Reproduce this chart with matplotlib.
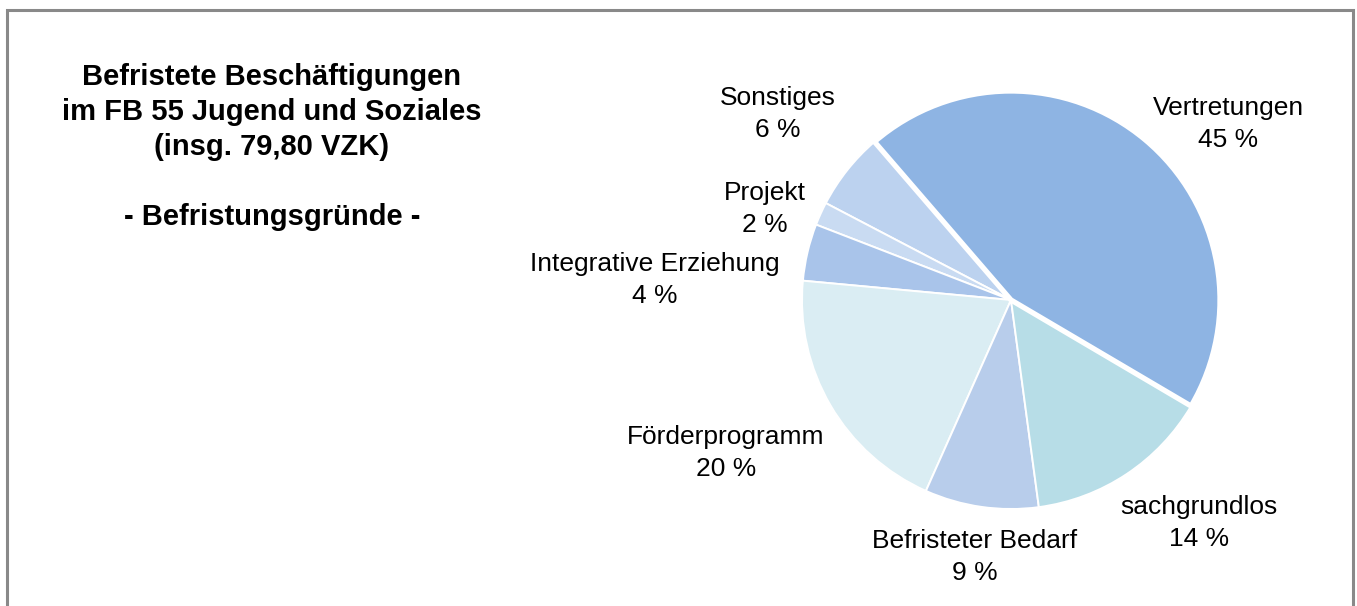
import matplotlib
matplotlib.use("Agg")
import matplotlib.pyplot as plt

plt.rcParams['font.family'] = ['Liberation Sans', 'DejaVu Sans']

categories = ["Vertretungen", "Sonstiges", "Projekt", "Integrative Erziehung",
              "Förderprogramm", "Befristeter Bedarf", "sachgrundlos"]
shares = [44.8, 6.0, 1.8, 4.4, 19.8, 8.8, 14.4]
shown_pct = [45, 6, 2, 4, 20, 9, 14]
colors = ["#8EB4E3", "#BCD2EF", "#C9DBF2", "#A9C4EA", "#DAEDF3", "#B8CDEB", "#B7DDE7"]

# label centre positions in pixels (x, y from top)
label_pos = [(1228, 124), (778, 114), (765, 209), (655, 280),
             (726, 453), (975, 557), (1199, 523)]

W, H = 1357, 606
fig = plt.figure(figsize=(W / 100, H / 100), dpi=100)

# border frame
border = fig.add_axes([0, 0, 1, 1], facecolor='none')
border.set_xlim(0, W); border.set_ylim(H, 0); border.axis('off')
border.plot([7, 7, 1353, 1353], [H + 5, 10, 10, H + 5], color='#898989', lw=2.2,
            solid_joinstyle='miter')

# pie axes: centre (1011, 300), radius 209
cx, cy, r = 1011, 300, 209
ax = fig.add_axes([(cx - r) / W, (H - cy - r) / H, 2 * r / W, 2 * r / H])
wedges, _ = ax.pie(shares, colors=colors, startangle=-30.5, counterclock=True,
                   radius=1.0, wedgeprops=dict(edgecolor='white', linewidth=1.4))
wedges[0].set_linewidth(3.8)
wedges[0].set_zorder(5)
wedges[0].set_joinstyle('miter')
ax.set_xlim(-1, 1); ax.set_ylim(-1, 1)
ax.set_aspect('auto')
ax.axis('off')

for name, pct, (x, y) in zip(categories, shown_pct, label_pos):
    border.text(x, y, f"{name}\n{pct} %", ha='center', va='center', fontsize=19,
                linespacing=1.37, color='black')

title = ("Befristete Beschäftigungen\nim FB 55 Jugend und Soziales\n"
         "(insg. 79,80 VZK)\n\n- Befristungsgründe -")
border.text(272, 147, title, ha='center', va='center', fontsize=21,
            fontweight='bold', linespacing=1.31, color='black')

fig.savefig("out.png", dpi=100)
